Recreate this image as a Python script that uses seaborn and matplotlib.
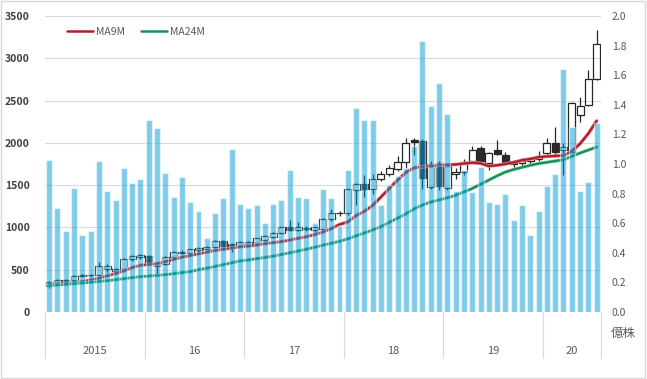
import numpy as np
import pandas as pd
import seaborn as sns
import matplotlib.pyplot as plt
from matplotlib.lines import Line2D
from matplotlib.patches import Rectangle
from matplotlib.ticker import FormatStrFormatter

sns.set_theme(style="white")
plt.rcParams['font.family'] = ['Noto Sans CJK JP', 'DejaVu Sans']

# monthly data, Jan 2015 - Jul 2020
years = ["2015", "16", "17", "18", "19", "20"]
months_per_year = [12, 12, 12, 12, 12, 7]

# volume, 100 million shares (億株)
volume = [1.03, 0.70, 0.55, 0.84, 0.52, 0.55, 1.02, 0.82, 0.76, 0.97, 0.87, 0.90,
          1.30, 1.24, 0.94, 0.78, 0.91, 0.74, 0.68, 0.50, 0.67, 0.77, 1.10, 0.73,
          0.70, 0.72, 0.60, 0.73, 0.76, 0.96, 0.78, 0.77, 0.60, 0.83, 0.77, 0.58,
          0.96, 1.38, 1.30, 1.30, 0.72, 0.86, 0.92, 0.97, 1.12, 1.83, 1.39, 1.55,
          1.34, 0.82, 0.96, 0.81, 0.98, 0.745, 0.73, 0.80, 0.62, 0.72, 0.52, 0.68,
          0.85, 0.93, 1.64, 1.25, 0.82, 0.88, 1.28]

open_ = [310, 345, 372, 380, 430, 432, 440, 505, 490, 505, 625, 645,
         660, 540, 565, 650, 700, 695, 735, 745, 770, 835, 800, 790,
         800, 815, 855, 890, 935, 1005, 975, 985, 975, 980, 1105, 1175,
         1165, 1445, 1510, 1455, 1570, 1630, 1690, 1775, 2035, 2020, 1480, 1765,
         1470, 1630, 1650, 1790, 1935, 1765, 1920, 1860, 1745, 1765, 1790, 1805,
         1880, 2000, 1915, 1890, 2330, 2450, 2760]
high = [365, 385, 395, 440, 445, 450, 590, 570, 520, 640, 675, 690,
        670, 590, 660, 720, 730, 750, 770, 775, 850, 850, 815, 840,
        845, 880, 905, 945, 1010, 1090, 1060, 1020, 1010, 1115, 1215, 1190,
        1460, 1530, 1620, 1630, 1670, 1740, 1850, 2055, 2060, 2040, 1790, 1790,
        1745, 1700, 1810, 1965, 1960, 1890, 2030, 1890, 1800, 1815, 1830, 1900,
        2055, 2185, 1995, 2480, 2540, 2860, 3335]
low = [280, 330, 350, 370, 410, 415, 430, 470, 470, 495, 605, 625,
       555, 460, 550, 630, 680, 680, 715, 730, 760, 770, 715, 770,
       780, 800, 840, 875, 920, 960, 960, 960, 940, 970, 1080, 1140,
       1150, 1265, 1365, 1400, 1550, 1610, 1670, 1700, 1860, 1460, 1450, 1440,
       1440, 1570, 1620, 1770, 1760, 1680, 1860, 1750, 1690, 1720, 1740, 1790,
       1860, 1850, 1620, 1880, 2250, 2440, 2740]
close = [350, 375, 380, 430, 437, 440, 545, 545, 505, 625, 660, 670,
         575, 570, 650, 710, 715, 740, 760, 765, 840, 780, 760, 830,
         830, 870, 895, 935, 1000, 975, 1000, 995, 1000, 1105, 1170, 1165,
         1450, 1510, 1455, 1570, 1630, 1700, 1775, 2000, 2005, 1590, 1755, 1490,
         1725, 1650, 1775, 1920, 1780, 1880, 1870, 1770, 1765, 1790, 1805, 1845,
         2000, 1895, 1955, 2470, 2440, 2760, 3170]

ma9 = [325, 333, 340, 348, 360, 378, 398, 428, 455, 487, 525, 552,
       562, 572, 595, 622, 648, 668, 688, 708, 728, 742, 755, 772,
       780, 792, 808, 820, 832, 851, 871, 890, 915, 945, 985, 1035,
       1065, 1140, 1190, 1260, 1360, 1460, 1560, 1650, 1705, 1718, 1725, 1735,
       1740, 1745, 1755, 1765, 1758, 1725, 1735, 1750, 1770, 1795, 1810, 1830,
       1840, 1845, 1850, 1900, 1990, 2110, 2260]
ma24 = [311, 320, 327, 335, 343, 352, 362, 370, 382, 394, 406, 418,
        425, 432, 442, 453, 465, 478, 500, 518, 538, 560, 582, 603,
        615, 630, 645, 660, 680, 700, 720, 742, 765, 790, 812, 835,
        865, 900, 935, 970, 1010, 1060, 1110, 1160, 1220, 1265, 1300, 1325,
        1350, 1380, 1420, 1460, 1510, 1560, 1610, 1655, 1685, 1710, 1735, 1755,
        1770, 1785, 1800, 1840, 1880, 1915, 1950]

n = len(volume)
x = np.arange(n)

fig = plt.figure(figsize=(6.47, 3.79), dpi=100)
axp = fig.add_axes([0.0696, 0.1768, 0.859, 0.781])
axv = axp.twinx()

# price grid below everything
axp.set_ylim(0, 3500)
axp.set_yticks(range(0, 3501, 500))
axp.set_axisbelow(True)
axp.grid(axis='y', color='#d9d9d9', lw=0.8)
axp.grid(axis='x', visible=False)

# candlesticks
tops = np.maximum(open_, close)
bots = np.minimum(open_, close)
faces = ['none' if c >= o else '#2a2a2a' for o, c in zip(open_, close)]
axp.vlines(x, tops, high, color='#262626', lw=0.9, zorder=2)
axp.vlines(x, low, bots, color='#262626', lw=0.9, zorder=2)
axp.bar(x, tops - bots, bottom=bots, width=0.84, color=faces,
        edgecolor='#262626', linewidth=0.9, zorder=2)

# moving averages
sns.lineplot(x=x, y=ma9, ax=axp, color='#ee9aa3', lw=2.6, zorder=3)
sns.lineplot(x=x, y=ma9, ax=axp, color='#b01f2a', lw=1.7, zorder=3)
sns.lineplot(x=x, y=ma24, ax=axp, color='#9fd6b8', lw=2.5, zorder=3)
sns.lineplot(x=x, y=ma24, ax=axp, color='#17905a', lw=1.7, zorder=3)

# volume bars on top, semi-transparent
df = pd.DataFrame({'month': x, 'volume': volume})
sns.barplot(data=df, x='month', y='volume', ax=axv, color='#009bd5',
            saturation=1, width=0.72, alpha=0.5)
axv.set_ylim(0, 2.0)
axv.set_yticks(np.arange(0, 2.01, 0.2))
axv.yaxis.set_major_formatter(FormatStrFormatter('%.1f'))

for a in (axp, axv):
    a.set_xlim(-0.5, n - 0.5)
    a.set_xticks([])
    a.set_xlabel('')
    a.set_ylabel('')
    for s in a.spines.values():
        s.set_visible(False)

axp.tick_params(axis='y', length=0, pad=11, labelsize=7.5, labelcolor='#404040')
for t in axp.get_yticklabels():
    t.set_fontweight('bold')
axv.tick_params(axis='y', length=0, pad=8, labelsize=7.5, labelcolor='#595959')

# year labels and separators
trans = axp.get_xaxis_transform()
edges = np.concatenate([[0], np.cumsum(months_per_year)]) - 0.5
for e in edges:
    axp.plot([e, e], [0, -0.155], transform=trans, color='#d9d9d9', lw=0.8,
             clip_on=False)
for i, yr in enumerate(years):
    mid = (edges[i] + edges[i + 1]) / 2
    axp.text(mid, -0.132, yr, transform=trans, ha='center', va='center',
             fontsize=8, color='#595959')

axv.text(1.041, -0.074, '億株', transform=axv.transAxes, ha='center',
         va='center', fontsize=9, color='#595959')

handles = [Line2D([], [], color='#b01f2a', lw=1.8),
           Line2D([], [], color='#17905a', lw=1.8)]
leg = axv.legend(handles, ['MA9M', 'MA24M'], loc='upper left',
                 bbox_to_anchor=(0.03, 0.98), ncol=2, frameon=False,
                 borderpad=0, handlelength=2.5, handletextpad=0.3,
                 columnspacing=1.5, fontsize=7.5)
for t in leg.get_texts():
    t.set_color('#595959')

fig.patches.append(Rectangle((0.002, 0.003), 0.995, 0.994, transform=fig.transFigure,
                             fill=False, edgecolor='#d9d9d9', lw=1))

fig.savefig('out.png', dpi=100)
